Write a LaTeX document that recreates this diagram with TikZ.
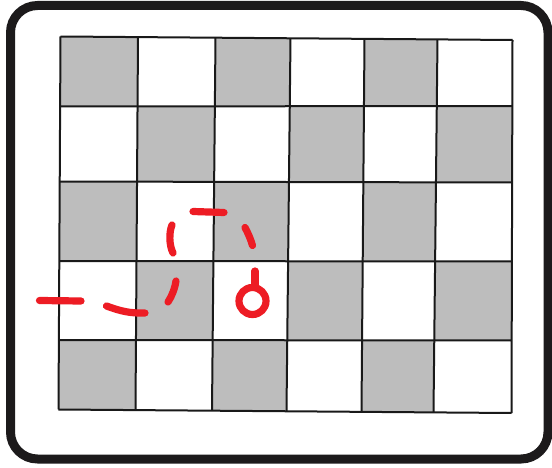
\documentclass[tikz,border=0pt]{standalone}
\usepackage{tikz}
\definecolor{cellgray}{RGB}{189,189,189}
\definecolor{penred}{RGB}{237,28,36}
\definecolor{framecol}{RGB}{28,26,27}
\definecolor{gridcol}{RGB}{25,25,25}
\tikzset{
  cellfill/.style={fill=cellgray},
  gridline/.style={draw=gridcol,line width=2pt},
  frameline/.style={draw=framecol,line width=9pt,rounded corners=27pt},
  pendash/.style={draw=penred,line width=7.2pt,line cap=round}
}
\begin{document}
\begin{tikzpicture}[x=1pt,y=-1pt]
\useasboundingbox (0,0) rectangle (552,468);
\fill[white] (0,0) rectangle (552,468);
\def\xt{{60.5,138,215.5,290.5,364.5,437.5,512.5}}
\def\xb{{58.5,135.5,212,286.5,361.5,433.5,511.5}}
\def\yl{{36.5,106.5,181.5,261,340,409.5}}
\def\yr{{40,106,182.5,261.5,340.5,413}}
\foreach \i in {0,...,6}{
  \foreach \j in {0,...,5}{
    \pgfmathsetmacro\px{\xt[\i]+(\xb[\i]-\xt[\i])*\j/5}
    \pgfmathsetmacro\py{\yl[\j]+(\yr[\j]-\yl[\j])*\i/6}
    \coordinate (p-\i-\j) at (\px,\py);
  }
}
\foreach \i in {0,...,5}{
  \foreach \j in {0,...,4}{
    \pgfmathtruncatemacro\ii{\i+1}
    \pgfmathtruncatemacro\jj{\j+1}
    \pgfmathtruncatemacro\cellpar{mod(\i+\j,2)}
    \ifnum\cellpar=0
      \fill[cellfill] (p-\i-\j) -- (p-\ii-\j) -- (p-\ii-\jj) -- (p-\i-\jj) -- cycle;
    \fi
  }
}
\foreach \i in {0,...,6}{ \draw[gridline] (p-\i-0) -- (p-\i-5); }
\foreach \j in {0,...,5}{ \draw[gridline] (p-0-\j) -- (p-6-\j); }
\draw[frameline] (10.5,5.5) rectangle (548,459);
% red dashed path
\coordinate (d1a) at (39.5,300.5); \coordinate (d1b) at (81,301);
\draw[pendash] (d1a) -- (d1b);
\coordinate (d2a) at (106.5,306); \coordinate (d2b) at (145,313);
\draw[pendash] (d2a) .. controls (120,311) and (130,313.5) .. (d2b);
\coordinate (d3a) at (168,302); \coordinate (d3b) at (176,281);
\draw[pendash] (d3a) .. controls (172,296) and (175,288) .. (d3b);
\coordinate (d4a) at (173,253); \coordinate (d4b) at (172,225);
\draw[pendash] (d4a) .. controls (169,245) and (169,232) .. (d4b);
\coordinate (d5a) at (193,211.5); \coordinate (d5b) at (224,212.5);
\draw[pendash] (d5a) -- (d5b);
\coordinate (d6a) at (245,227.5); \coordinate (d6b) at (252.5,245.5);
\draw[pendash] (d6a) .. controls (248,233) and (251,240) .. (d6b);
\coordinate (d7a) at (255,271); \coordinate (d7b) at (255,287.5);
\draw[pendash] (d7a) -- (d7b);
\coordinate (ring) at (252.5,301);
\draw[pendash] (ring) circle[radius=13.5];
\end{tikzpicture}
\end{document}
